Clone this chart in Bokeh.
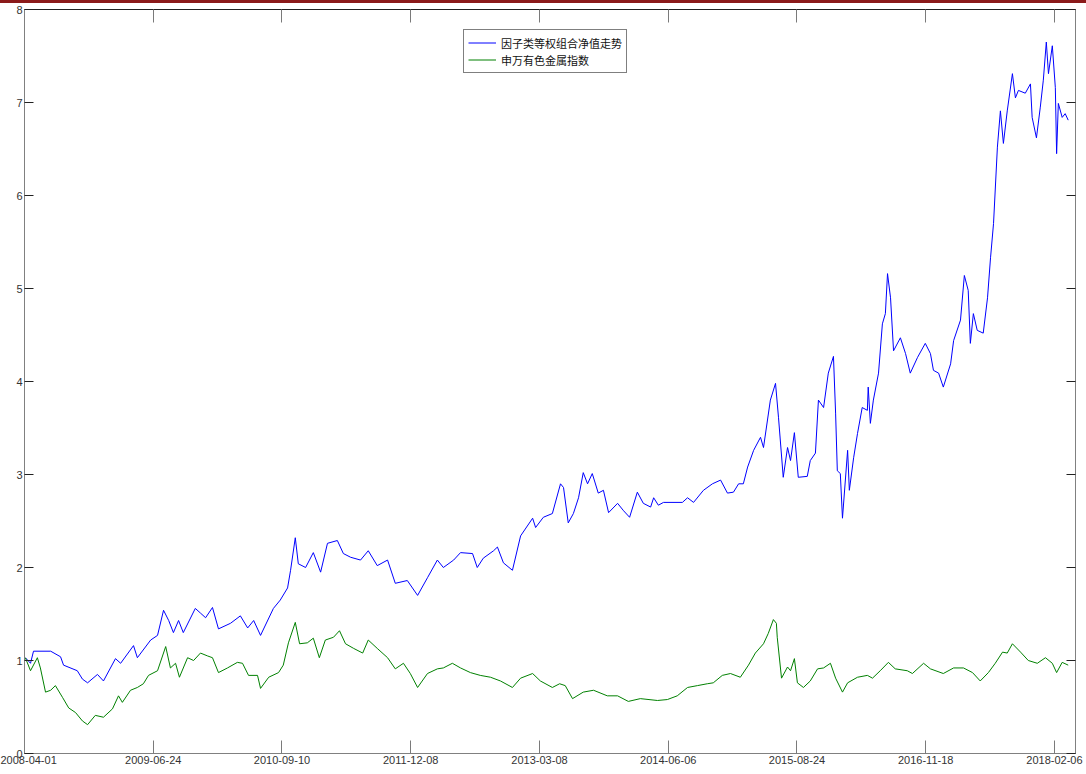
from bokeh.plotting import figure
from bokeh.models import Range1d, FixedTicker, LinearAxis, Div
from bokeh.layouts import column
from bokeh.embed import file_html
from bokeh.resources import INLINE

# trading-day index (x) and values
blue_idx = [2, 14, 21, 61, 84, 91, 123, 135, 147, 170, 184, 212, 224, 254, 263, 294, 310, 324, 336, 347,
            359, 370, 398, 410, 422, 438, 452, 480, 503, 520, 534, 550, 580, 596, 613, 620, 631, 638, 655, 673,
            690, 706, 729, 743, 760, 783, 801, 822, 846, 864, 892, 916, 939, 962, 976, 1000, 1016, 1044, 1055, 1069,
            1093, 1102, 1116, 1137, 1156, 1184, 1191, 1209, 1230, 1249, 1256, 1267, 1279, 1291, 1302, 1312, 1323, 1337, 1349, 1361,
            1382, 1396, 1410, 1428, 1442, 1459, 1466, 1477, 1489, 1533, 1545, 1559, 1582, 1603, 1622, 1638, 1652, 1664, 1675, 1685,
            1699, 1715, 1722, 1738, 1750, 1757, 1768, 1778, 1785, 1794, 1803, 1824, 1831, 1843, 1850, 1862, 1873, 1885, 1890, 1894,
            1901, 1906, 1918, 1922, 1932, 1941, 1952, 1964, 1966, 1971, 1978, 1990, 1999, 2006, 2011, 2018, 2025, 2041, 2053, 2064,
            2081, 2099, 2111, 2118, 2130, 2141, 2158, 2165, 2181, 2190, 2199, 2204, 2211, 2220, 2234, 2244, 2251, 2258, 2267, 2274,
            2281, 2290, 2302, 2309, 2316, 2332, 2344, 2348, 2358, 2367, 2374, 2381, 2386, 2395, 2402, 2405, 2409, 2418, 2425, 2432]
blue_val = [1.03, 0.97, 1.10, 1.10, 1.04, 0.95, 0.89, 0.80, 0.76, 0.85, 0.78, 1.02, 0.97, 1.16, 1.03, 1.22, 1.27, 1.54, 1.43, 1.30,
            1.43, 1.30, 1.56, 1.51, 1.46, 1.57, 1.34, 1.40, 1.48, 1.35, 1.43, 1.27, 1.56, 1.65, 1.78, 1.97, 2.32, 2.04, 2.00, 2.16,
            1.95, 2.26, 2.29, 2.15, 2.11, 2.08, 2.18, 2.02, 2.08, 1.83, 1.86, 1.70, 1.89, 2.08, 2.00, 2.08, 2.16, 2.15, 2.00, 2.10,
            2.18, 2.22, 2.05, 1.97, 2.34, 2.53, 2.43, 2.54, 2.58, 2.90, 2.86, 2.48, 2.58, 2.75, 3.02, 2.90, 3.01, 2.80, 2.83, 2.59,
            2.69, 2.61, 2.54, 2.81, 2.69, 2.65, 2.75, 2.67, 2.70, 2.70, 2.75, 2.70, 2.83, 2.90, 2.94, 2.80, 2.81, 2.90, 2.90, 3.08,
            3.26, 3.40, 3.29, 3.80, 3.98, 3.61, 2.97, 3.29, 3.15, 3.45, 2.97, 2.98, 3.15, 3.23, 3.80, 3.72, 4.09, 4.27, 3.66, 3.04,
            3.01, 2.53, 3.26, 2.83, 3.18, 3.44, 3.72, 3.69, 3.94, 3.55, 3.80, 4.09, 4.62, 4.73, 5.16, 4.90, 4.33, 4.47, 4.30, 4.09,
            4.26, 4.41, 4.30, 4.12, 4.09, 3.94, 4.19, 4.44, 4.66, 5.14, 4.98, 4.41, 4.73, 4.55, 4.52, 4.90, 5.33, 5.70, 6.52, 6.91,
            6.56, 6.91, 7.31, 7.05, 7.13, 7.10, 7.20, 6.84, 6.62, 6.95, 7.24, 7.65, 7.31, 7.61, 7.16, 6.45, 6.99, 6.84, 6.88, 6.81]

green_idx = [2, 14, 30, 37, 49, 61, 72, 89, 103, 119, 135, 147, 165, 184, 205, 219, 228, 247, 263, 277,
             289, 310, 329, 340, 352, 361, 380, 394, 410, 426, 438, 452, 473, 496, 508, 522, 543, 550, 569, 592,
             603, 615, 631, 641, 659, 673, 687, 701, 720, 734, 748, 767, 788, 801, 822, 846, 864, 883, 899, 916,
             939, 962, 976, 997, 1016, 1039, 1062, 1086, 1109, 1137, 1156, 1184, 1202, 1230, 1247, 1260, 1277, 1302, 1326, 1358,
             1382, 1407, 1435, 1475, 1498, 1521, 1545, 1568, 1591, 1605, 1626, 1645, 1668, 1687, 1703, 1722, 1733, 1745, 1752, 1754,
             1764, 1778, 1785, 1794, 1801, 1815, 1831, 1848, 1862, 1878, 1890, 1906, 1918, 1941, 1964, 1976, 1994, 2013, 2029, 2057,
             2069, 2095, 2111, 2141, 2165, 2188, 2209, 2227, 2246, 2262, 2279, 2290, 2302, 2321, 2339, 2360, 2379, 2395, 2405, 2418, 2432]
green_val = [1.03, 0.89, 1.03, 0.92, 0.66, 0.68, 0.73, 0.60, 0.49, 0.44, 0.35, 0.31, 0.41, 0.39, 0.48, 0.62, 0.55, 0.68, 0.71, 0.75,
             0.84, 0.89, 1.15, 0.92, 0.97, 0.82, 1.03, 1.00, 1.08, 1.05, 1.03, 0.87, 0.92, 0.98, 0.97, 0.84, 0.84, 0.70, 0.82, 0.87,
             0.95, 1.19, 1.41, 1.18, 1.19, 1.24, 1.03, 1.22, 1.25, 1.32, 1.18, 1.13, 1.08, 1.22, 1.13, 1.03, 0.91, 0.97, 0.86, 0.71,
             0.86, 0.91, 0.92, 0.97, 0.92, 0.87, 0.84, 0.82, 0.78, 0.71, 0.81, 0.86, 0.78, 0.71, 0.75, 0.73, 0.59, 0.66, 0.68, 0.62,
             0.62, 0.56, 0.59, 0.57, 0.58, 0.62, 0.71, 0.73, 0.75, 0.76, 0.84, 0.86, 0.82, 0.95, 1.08, 1.18, 1.29, 1.44, 1.40, 1.25,
             0.81, 0.93, 0.89, 1.02, 0.76, 0.71, 0.78, 0.91, 0.92, 0.97, 0.81, 0.66, 0.76, 0.82, 0.84, 0.81, 0.89, 0.98, 0.91, 0.89,
             0.86, 0.97, 0.91, 0.86, 0.92, 0.92, 0.87, 0.78, 0.87, 0.97, 1.09, 1.08, 1.18, 1.09, 1.00, 0.97, 1.03, 0.97, 0.87, 0.98, 0.95]

x_ticks = [0, 300, 600, 900, 1200, 1500, 1800, 2100, 2400]
x_tick_labels = ["2008-04-01", "2009-06-24", "2010-09-10", "2011-12-08", "2013-03-08",
                 "2014-06-06", "2015-08-24", "2016-11-18", "2018-02-06"]
y_ticks = [0, 1, 2, 3, 4, 5, 6, 7, 8]

series_names = ["因子类等权组合净值走势", "申万有色金属指数"]

TICK_FONT = "Liberation Sans"

p = figure(width=1086, height=771, output_backend="svg", toolbar_location=None,
           x_range=Range1d(0, 2449), y_range=Range1d(0, 8),
           min_border_left=24, min_border_right=11, min_border_top=6, min_border_bottom=21)
p.margin = 0
p.background_fill_color = "white"
p.border_fill_color = "white"
p.outline_line_color = "#444444"
p.outline_line_width = 1
p.xgrid.visible = False
p.ygrid.visible = False

p.line(blue_idx, blue_val, line_color="#0000ff", line_width=1, legend_label=series_names[0])
p.line(green_idx, green_val, line_color="#008000", line_width=1, legend_label=series_names[1])

# bottom axis
xa = p.xaxis[0]
xa.ticker = FixedTicker(ticks=x_ticks)
xa.major_label_overrides = {t: l for t, l in zip(x_ticks, x_tick_labels)}
# left axis
ya = p.yaxis[0]
ya.ticker = FixedTicker(ticks=y_ticks)

for ax, tin in ((xa, 13), (ya, 9)):
    ax.major_tick_in = tin
    ax.major_tick_out = 0
    ax.minor_tick_line_color = None
    ax.axis_line_color = "#808080"
    ax.major_tick_line_color = "#7a7a7a" if ax is xa else "#222222"
    ax.major_label_text_font = TICK_FONT
    ax.major_label_text_font_size = "11px"
    ax.major_label_text_color = "#333333"
    ax.major_label_standoff = 2

# mirrored axes with inside ticks only (box style), no labels
top = LinearAxis(ticker=FixedTicker(ticks=x_ticks), major_tick_in=13, major_tick_out=0,
                 minor_tick_line_color=None, axis_line_color="#222222", major_tick_line_color="#7a7a7a",
                 major_label_overrides={t: "" for t in x_ticks}, major_label_standoff=0,
                 major_label_text_font_size="8px")
right = LinearAxis(ticker=FixedTicker(ticks=y_ticks), major_tick_in=9, major_tick_out=0,
                   minor_tick_line_color=None, axis_line_color="#808080", major_tick_line_color="#222222",
                   major_label_overrides={t: "" for t in y_ticks}, major_label_standoff=0,
                   major_label_text_font_size="8px")
p.add_layout(top, "above")
p.add_layout(right, "right")

lg = p.legend[0]
lg.location = (439, 680)
lg.margin = 0
lg.padding = 4
lg.spacing = 0
lg.glyph_width = 28
lg.glyph_height = 17
lg.label_height = 17
lg.label_standoff = 5
lg.label_text_font = "Noto Sans CJK SC"
lg.label_text_font_size = "11px"
lg.label_text_color = "#111111"
lg.border_line_color = "#000000"
lg.border_line_width = 1
lg.background_fill_color = "white"
lg.background_fill_alpha = 1.0

bar = Div(text="", width=1086, height=3, margin=0,
          styles={"background-color": "#8b1a1a", "padding": "0px"})
layout = column(bar, p, spacing=0, margin=0)

open("out.html", "w").write(file_html(layout, INLINE))
